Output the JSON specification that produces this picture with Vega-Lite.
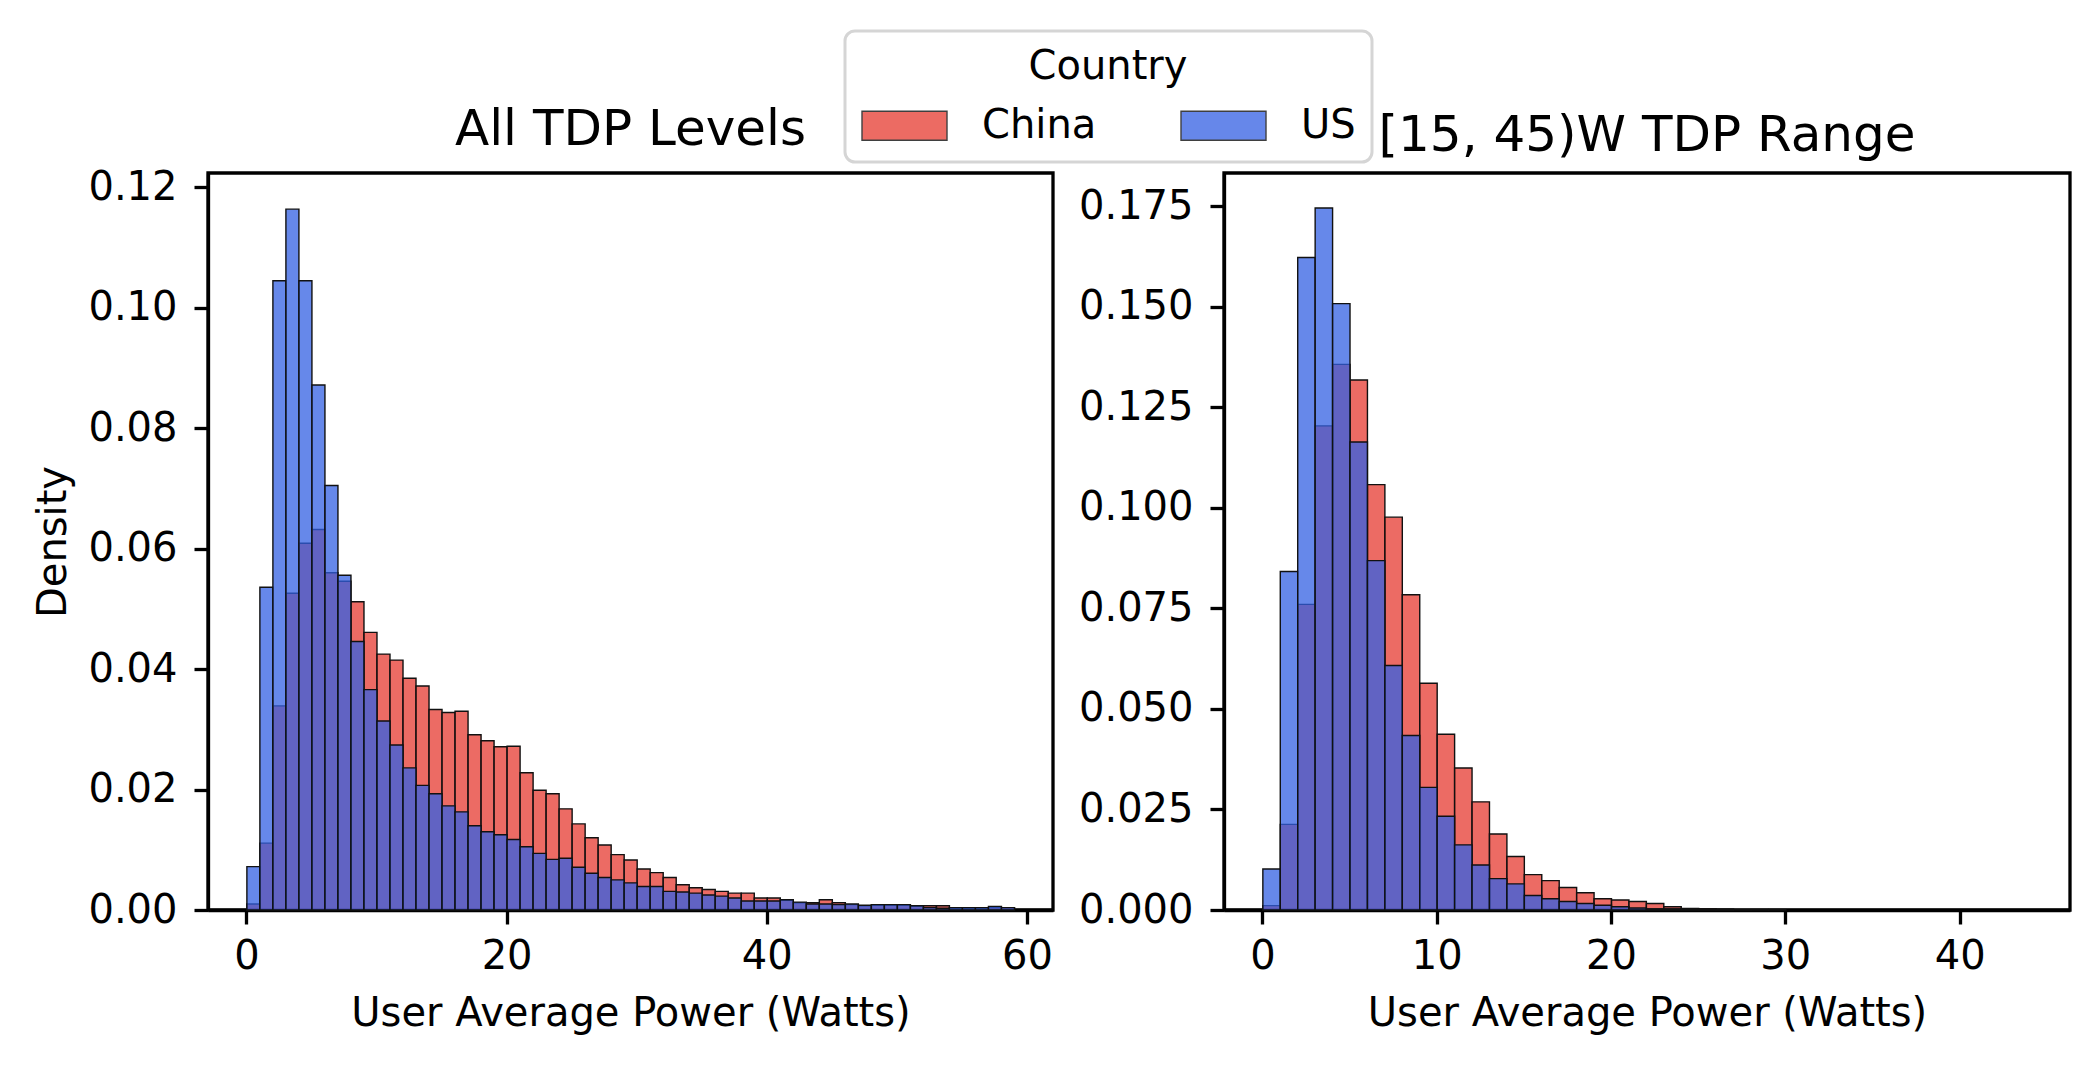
{
  "$schema": "https://vega.github.io/schema/vega-lite/v6.json",
  "padding": {"left": 32, "top": 29, "right": 10, "bottom": 10},
  "background": "white",
  "config": {
    "font": "DejaVu Sans",
    "view": {"stroke": "black", "strokeWidth": 3.3},
    "axis": {
      "grid": false,
      "domainColor": "black",
      "domainWidth": 3.3,
      "tickColor": "black",
      "tickWidth": 3.3,
      "tickSize": 14,
      "labelFontSize": 40,
      "labelColor": "black",
      "titleFontSize": 40,
      "titleFontWeight": "normal",
      "titleColor": "black",
      "labelFlush": false,
      "labelOverlap": false
    },
    "axisX": {"labelPadding": 12, "titlePadding": 17},
    "axisY": {"labelPadding": 17, "titlePadding": 14},
    "title": {"fontSize": 50, "fontWeight": "normal", "color": "black", "anchor": "middle", "baseline": "alphabetic", "offset": 12}
  },
  "datasets": {
    "all": [
      {"country": "China", "start": 0, "end": 1, "density": 0.0010},
      {"country": "China", "start": 1, "end": 2, "density": 0.0111},
      {"country": "China", "start": 2, "end": 3, "density": 0.0339},
      {"country": "China", "start": 3, "end": 4, "density": 0.0526},
      {"country": "China", "start": 4, "end": 5, "density": 0.0609},
      {"country": "China", "start": 5, "end": 6, "density": 0.0632},
      {"country": "China", "start": 6, "end": 7, "density": 0.0560},
      {"country": "China", "start": 7, "end": 8, "density": 0.0546},
      {"country": "China", "start": 8, "end": 9, "density": 0.0512},
      {"country": "China", "start": 9, "end": 10, "density": 0.0461},
      {"country": "China", "start": 10, "end": 11, "density": 0.0425},
      {"country": "China", "start": 11, "end": 12, "density": 0.0415},
      {"country": "China", "start": 12, "end": 13, "density": 0.0385},
      {"country": "China", "start": 13, "end": 14, "density": 0.0372},
      {"country": "China", "start": 14, "end": 15, "density": 0.0333},
      {"country": "China", "start": 15, "end": 16, "density": 0.0328},
      {"country": "China", "start": 16, "end": 17, "density": 0.0330},
      {"country": "China", "start": 17, "end": 18, "density": 0.0291},
      {"country": "China", "start": 18, "end": 19, "density": 0.0281},
      {"country": "China", "start": 19, "end": 20, "density": 0.0271},
      {"country": "China", "start": 20, "end": 21, "density": 0.0272},
      {"country": "China", "start": 21, "end": 22, "density": 0.0228},
      {"country": "China", "start": 22, "end": 23, "density": 0.0199},
      {"country": "China", "start": 23, "end": 24, "density": 0.0193},
      {"country": "China", "start": 24, "end": 25, "density": 0.0168},
      {"country": "China", "start": 25, "end": 26, "density": 0.0143},
      {"country": "China", "start": 26, "end": 27, "density": 0.0120},
      {"country": "China", "start": 27, "end": 28, "density": 0.0108},
      {"country": "China", "start": 28, "end": 29, "density": 0.0092},
      {"country": "China", "start": 29, "end": 30, "density": 0.0083},
      {"country": "China", "start": 30, "end": 31, "density": 0.0068},
      {"country": "China", "start": 31, "end": 32, "density": 0.0062},
      {"country": "China", "start": 32, "end": 33, "density": 0.0054},
      {"country": "China", "start": 33, "end": 34, "density": 0.0042},
      {"country": "China", "start": 34, "end": 35, "density": 0.0037},
      {"country": "China", "start": 35, "end": 36, "density": 0.0034},
      {"country": "China", "start": 36, "end": 37, "density": 0.0031},
      {"country": "China", "start": 37, "end": 38, "density": 0.0028},
      {"country": "China", "start": 38, "end": 39, "density": 0.0028},
      {"country": "China", "start": 39, "end": 40, "density": 0.0020},
      {"country": "China", "start": 40, "end": 41, "density": 0.0020},
      {"country": "China", "start": 41, "end": 42, "density": 0.0016},
      {"country": "China", "start": 42, "end": 43, "density": 0.0012},
      {"country": "China", "start": 43, "end": 44, "density": 0.0012},
      {"country": "China", "start": 44, "end": 45, "density": 0.0017},
      {"country": "China", "start": 45, "end": 46, "density": 0.0012},
      {"country": "China", "start": 46, "end": 47, "density": 0.0009},
      {"country": "China", "start": 47, "end": 48, "density": 0.0007},
      {"country": "China", "start": 48, "end": 49, "density": 0.0008},
      {"country": "China", "start": 49, "end": 50, "density": 0.0008},
      {"country": "China", "start": 50, "end": 51, "density": 0.0008},
      {"country": "China", "start": 51, "end": 52, "density": 0.0006},
      {"country": "China", "start": 52, "end": 53, "density": 0.0007},
      {"country": "China", "start": 53, "end": 54, "density": 0.0007},
      {"country": "China", "start": 54, "end": 55, "density": 0.0003},
      {"country": "China", "start": 55, "end": 56, "density": 0.0003},
      {"country": "China", "start": 56, "end": 57, "density": 0.0003},
      {"country": "China", "start": 57, "end": 58, "density": 0.0004},
      {"country": "China", "start": 58, "end": 59, "density": 0.0004},
      {"country": "US", "start": 0, "end": 1, "density": 0.0072},
      {"country": "US", "start": 1, "end": 2, "density": 0.0536},
      {"country": "US", "start": 2, "end": 3, "density": 0.1045},
      {"country": "US", "start": 3, "end": 4, "density": 0.1164},
      {"country": "US", "start": 4, "end": 5, "density": 0.1045},
      {"country": "US", "start": 5, "end": 6, "density": 0.0872},
      {"country": "US", "start": 6, "end": 7, "density": 0.0705},
      {"country": "US", "start": 7, "end": 8, "density": 0.0556},
      {"country": "US", "start": 8, "end": 9, "density": 0.0446},
      {"country": "US", "start": 9, "end": 10, "density": 0.0366},
      {"country": "US", "start": 10, "end": 11, "density": 0.0314},
      {"country": "US", "start": 11, "end": 12, "density": 0.0274},
      {"country": "US", "start": 12, "end": 13, "density": 0.0236},
      {"country": "US", "start": 13, "end": 14, "density": 0.0207},
      {"country": "US", "start": 14, "end": 15, "density": 0.0193},
      {"country": "US", "start": 15, "end": 16, "density": 0.0173},
      {"country": "US", "start": 16, "end": 17, "density": 0.0163},
      {"country": "US", "start": 17, "end": 18, "density": 0.0140},
      {"country": "US", "start": 18, "end": 19, "density": 0.0130},
      {"country": "US", "start": 19, "end": 20, "density": 0.0125},
      {"country": "US", "start": 20, "end": 21, "density": 0.0117},
      {"country": "US", "start": 21, "end": 22, "density": 0.0105},
      {"country": "US", "start": 22, "end": 23, "density": 0.0094},
      {"country": "US", "start": 23, "end": 24, "density": 0.0084},
      {"country": "US", "start": 24, "end": 25, "density": 0.0086},
      {"country": "US", "start": 25, "end": 26, "density": 0.0071},
      {"country": "US", "start": 26, "end": 27, "density": 0.0061},
      {"country": "US", "start": 27, "end": 28, "density": 0.0054},
      {"country": "US", "start": 28, "end": 29, "density": 0.0050},
      {"country": "US", "start": 29, "end": 30, "density": 0.0045},
      {"country": "US", "start": 30, "end": 31, "density": 0.0039},
      {"country": "US", "start": 31, "end": 32, "density": 0.0039},
      {"country": "US", "start": 32, "end": 33, "density": 0.0031},
      {"country": "US", "start": 33, "end": 34, "density": 0.0030},
      {"country": "US", "start": 34, "end": 35, "density": 0.0028},
      {"country": "US", "start": 35, "end": 36, "density": 0.0025},
      {"country": "US", "start": 36, "end": 37, "density": 0.0023},
      {"country": "US", "start": 37, "end": 38, "density": 0.0020},
      {"country": "US", "start": 38, "end": 39, "density": 0.0015},
      {"country": "US", "start": 39, "end": 40, "density": 0.0015},
      {"country": "US", "start": 40, "end": 41, "density": 0.0015},
      {"country": "US", "start": 41, "end": 42, "density": 0.0017},
      {"country": "US", "start": 42, "end": 43, "density": 0.0013},
      {"country": "US", "start": 43, "end": 44, "density": 0.0010},
      {"country": "US", "start": 44, "end": 45, "density": 0.0010},
      {"country": "US", "start": 45, "end": 46, "density": 0.0009},
      {"country": "US", "start": 46, "end": 47, "density": 0.0010},
      {"country": "US", "start": 47, "end": 48, "density": 0.0008},
      {"country": "US", "start": 48, "end": 49, "density": 0.0009},
      {"country": "US", "start": 49, "end": 50, "density": 0.0009},
      {"country": "US", "start": 50, "end": 51, "density": 0.0009},
      {"country": "US", "start": 51, "end": 52, "density": 0.0007},
      {"country": "US", "start": 52, "end": 53, "density": 0.0004},
      {"country": "US", "start": 53, "end": 54, "density": 0.0003},
      {"country": "US", "start": 54, "end": 55, "density": 0.0004},
      {"country": "US", "start": 55, "end": 56, "density": 0.0004},
      {"country": "US", "start": 56, "end": 57, "density": 0.0004},
      {"country": "US", "start": 57, "end": 58, "density": 0.0006},
      {"country": "US", "start": 58, "end": 59, "density": 0.0004}
    ],
    "tdp": [
      {"country": "China", "start": 0, "end": 1, "density": 0.0011},
      {"country": "China", "start": 1, "end": 2, "density": 0.0213},
      {"country": "China", "start": 2, "end": 3, "density": 0.0760},
      {"country": "China", "start": 3, "end": 4, "density": 0.1204},
      {"country": "China", "start": 4, "end": 5, "density": 0.1357},
      {"country": "China", "start": 5, "end": 6, "density": 0.1318},
      {"country": "China", "start": 6, "end": 7, "density": 0.1058},
      {"country": "China", "start": 7, "end": 8, "density": 0.0977},
      {"country": "China", "start": 8, "end": 9, "density": 0.0784},
      {"country": "China", "start": 9, "end": 10, "density": 0.0564},
      {"country": "China", "start": 10, "end": 11, "density": 0.0437},
      {"country": "China", "start": 11, "end": 12, "density": 0.0353},
      {"country": "China", "start": 12, "end": 13, "density": 0.0269},
      {"country": "China", "start": 13, "end": 14, "density": 0.0189},
      {"country": "China", "start": 14, "end": 15, "density": 0.0133},
      {"country": "China", "start": 15, "end": 16, "density": 0.0088},
      {"country": "China", "start": 16, "end": 17, "density": 0.0073},
      {"country": "China", "start": 17, "end": 18, "density": 0.0056},
      {"country": "China", "start": 18, "end": 19, "density": 0.0043},
      {"country": "China", "start": 19, "end": 20, "density": 0.0028},
      {"country": "China", "start": 20, "end": 21, "density": 0.0025},
      {"country": "China", "start": 21, "end": 22, "density": 0.0021},
      {"country": "China", "start": 22, "end": 23, "density": 0.0016},
      {"country": "China", "start": 23, "end": 24, "density": 0.0008},
      {"country": "China", "start": 24, "end": 25, "density": 0.0004},
      {"country": "China", "start": 25, "end": 26, "density": 0.0003},
      {"country": "China", "start": 26, "end": 27, "density": 0.0002},
      {"country": "China", "start": 27, "end": 28, "density": 0.0001},
      {"country": "China", "start": 28, "end": 29, "density": 0.0001},
      {"country": "China", "start": 29, "end": 30, "density": 0.0001},
      {"country": "US", "start": 0, "end": 1, "density": 0.0102},
      {"country": "US", "start": 1, "end": 2, "density": 0.0842},
      {"country": "US", "start": 2, "end": 3, "density": 0.1623},
      {"country": "US", "start": 3, "end": 4, "density": 0.1746},
      {"country": "US", "start": 4, "end": 5, "density": 0.1508},
      {"country": "US", "start": 5, "end": 6, "density": 0.1164},
      {"country": "US", "start": 6, "end": 7, "density": 0.0869},
      {"country": "US", "start": 7, "end": 8, "density": 0.0608},
      {"country": "US", "start": 8, "end": 9, "density": 0.0434},
      {"country": "US", "start": 9, "end": 10, "density": 0.0305},
      {"country": "US", "start": 10, "end": 11, "density": 0.0233},
      {"country": "US", "start": 11, "end": 12, "density": 0.0162},
      {"country": "US", "start": 12, "end": 13, "density": 0.0112},
      {"country": "US", "start": 13, "end": 14, "density": 0.0078},
      {"country": "US", "start": 14, "end": 15, "density": 0.0065},
      {"country": "US", "start": 15, "end": 16, "density": 0.0036},
      {"country": "US", "start": 16, "end": 17, "density": 0.0028},
      {"country": "US", "start": 17, "end": 18, "density": 0.0021},
      {"country": "US", "start": 18, "end": 19, "density": 0.0016},
      {"country": "US", "start": 19, "end": 20, "density": 0.0012},
      {"country": "US", "start": 20, "end": 21, "density": 0.0008},
      {"country": "US", "start": 21, "end": 22, "density": 0.0005},
      {"country": "US", "start": 22, "end": 23, "density": 0.0003},
      {"country": "US", "start": 23, "end": 24, "density": 0.0003},
      {"country": "US", "start": 24, "end": 25, "density": 0.0002},
      {"country": "US", "start": 25, "end": 26, "density": 0.0001},
      {"country": "US", "start": 26, "end": 27, "density": 0.0001}
    ]
  },
  "spacing": 21,
  "resolve": {"scale": {"x": "independent", "y": "independent", "color": "shared"}},
  "hconcat": [
    {
      "width": 845,
      "height": 737,
      "title": {"text": "All TDP Levels"},
      "data": {"name": "all"},
      "mark": {"type": "bar", "binSpacing": 0, "fillOpacity": 0.75, "stroke": "#111111", "strokeWidth": 1.4},
      "encoding": {
        "x": {"field": "start", "type": "quantitative", "bin": "binned",
              "scale": {"domain": [-2.95, 62.0], "nice": false, "zero": false},
              "axis": {"title": "User Average Power (Watts)", "values": [0, 20, 40, 60]}},
        "x2": {"field": "end"},
        "y": {"field": "density", "type": "quantitative", "stack": null,
              "scale": {"domain": [0, 0.1224], "nice": false},
              "axis": {"title": "Density", "values": [0, 0.02, 0.04, 0.06, 0.08, 0.10, 0.12], "format": ".2f"}},
        "color": {"field": "country", "type": "nominal",
                  "scale": {"domain": ["China", "US"], "range": ["#E63A30", "#3360E3"]},
                  "legend": {
                    "orient": "none", "legendX": 637, "legendY": -142,
                    "direction": "horizontal", "title": "Country", "titleAnchor": "middle",
                    "titleFontSize": 40, "titleFontWeight": "normal", "titleColor": "black",
                    "labelFontSize": 40, "labelColor": "black",
                    "symbolType": "M-1,-0.34H1V0.34H-1Z", "symbolSize": 7225,
                    "symbolStrokeColor": "black", "symbolStrokeWidth": 1.4, "symbolOpacity": 0.75,
                    "labelOffset": 34, "columnPadding": 81, "padding": 16,
                    "strokeColor": "#d5d5d5", "cornerRadius": 10, "fillColor": "white",
                    "titlePadding": -5,
                    "encode": {"legend": {"update": {"strokeWidth": {"value": 3}}}}
                  }}
      }
    },
    {
      "width": 846,
      "height": 737,
      "title": {"text": "[15, 45)W TDP Range"},
      "data": {"name": "tdp"},
      "mark": {"type": "bar", "binSpacing": 0, "fillOpacity": 0.75, "stroke": "#111111", "strokeWidth": 1.4},
      "encoding": {
        "x": {"field": "start", "type": "quantitative", "bin": "binned",
              "scale": {"domain": [-2.2, 46.33], "nice": false, "zero": false},
              "axis": {"title": "User Average Power (Watts)", "values": [0, 10, 20, 30, 40]}},
        "x2": {"field": "end"},
        "y": {"field": "density", "type": "quantitative", "stack": null,
              "scale": {"domain": [0, 0.1833], "nice": false},
              "axis": {"title": null, "values": [0, 0.025, 0.05, 0.075, 0.1, 0.125, 0.15, 0.175], "format": ".3f"}},
        "color": {"field": "country", "type": "nominal"}
      }
    }
  ]
}
